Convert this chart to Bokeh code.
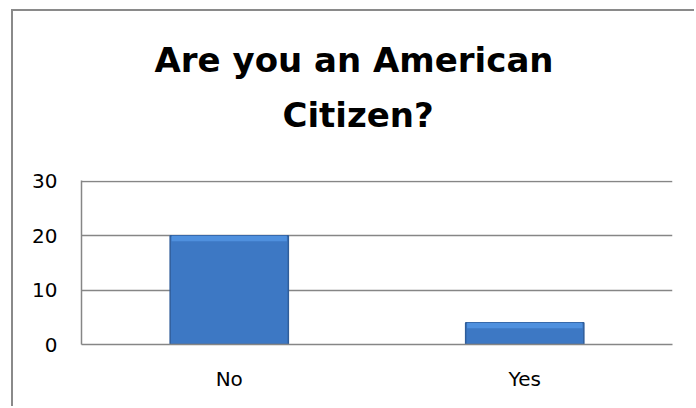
from bokeh.plotting import figure
from bokeh.models import Title, FixedTicker, ColumnDataSource
from bokeh.embed import file_html
from bokeh.resources import INLINE

title_lines = ["Are you an American", "Citizen?"]
categories = ["No", "Yes"]
counts = [20, 4]
y_ticks = [0, 10, 20, 30]

GRAY = "#868686"
FONT = "DejaVu Sans"

src = ColumnDataSource(dict(cat=categories, n=counts,
                            hl=[v - 1.0 for v in counts]))

p = figure(x_range=categories, y_range=(0, 30.15), width=683, height=397,
           output_backend="svg", toolbar_location=None,
           min_border_left=68, min_border_right=24,
           min_border_top=169, min_border_bottom=64)
p.styles = {"border-left": "2px solid #8A8A8A", "border-top": "2px solid #8A8A8A",
            "margin-left": "11px", "margin-top": "9px"}
p.outline_line_color = None
p.background_fill_color = "white"
p.border_fill_color = "white"

p.vbar(x="cat", top="n", width=0.4, source=src,
       fill_color="#3D78C4", line_color="#2F5D9A", line_width=1.5)
p.vbar(x="cat", top="n", bottom="hl", width=0.39, source=src,
       fill_color="#4F90DE", line_color=None)

p.xgrid.visible = False
p.ygrid.ticker = FixedTicker(ticks=y_ticks)
p.ygrid.grid_line_color = GRAY
p.ygrid.grid_line_width = 1.5

p.yaxis.ticker = FixedTicker(ticks=y_ticks)
for ax in (p.xaxis[0], p.yaxis[0]):
    ax.axis_line_color = GRAY
    ax.axis_line_width = 1.5
    ax.major_tick_out = 0
    ax.major_tick_in = 0
    ax.minor_tick_out = 0
    ax.minor_tick_in = 0
    ax.major_label_text_font = FONT
    ax.major_label_text_font_size = "20px"
    ax.major_label_text_color = "black"
p.yaxis.major_label_standoff = 24
p.xaxis.major_label_standoff = 22

# spacer between the title block and the plot frame
p.add_layout(Title(text=" ", standoff=26, text_font=FONT,
                   text_font_size="10px", text_color="white"), "above")
p.add_layout(Title(text=title_lines[1], align="left", offset=201, standoff=14,
                   text_font=FONT, text_font_style="bold",
                   text_font_size="34px", text_color="black"), "above")
p.add_layout(Title(text=title_lines[0], align="left", offset=73, standoff=12,
                   text_font=FONT, text_font_style="bold",
                   text_font_size="34px", text_color="black"), "above")

open("out.html", "w").write(file_html(p, INLINE))
